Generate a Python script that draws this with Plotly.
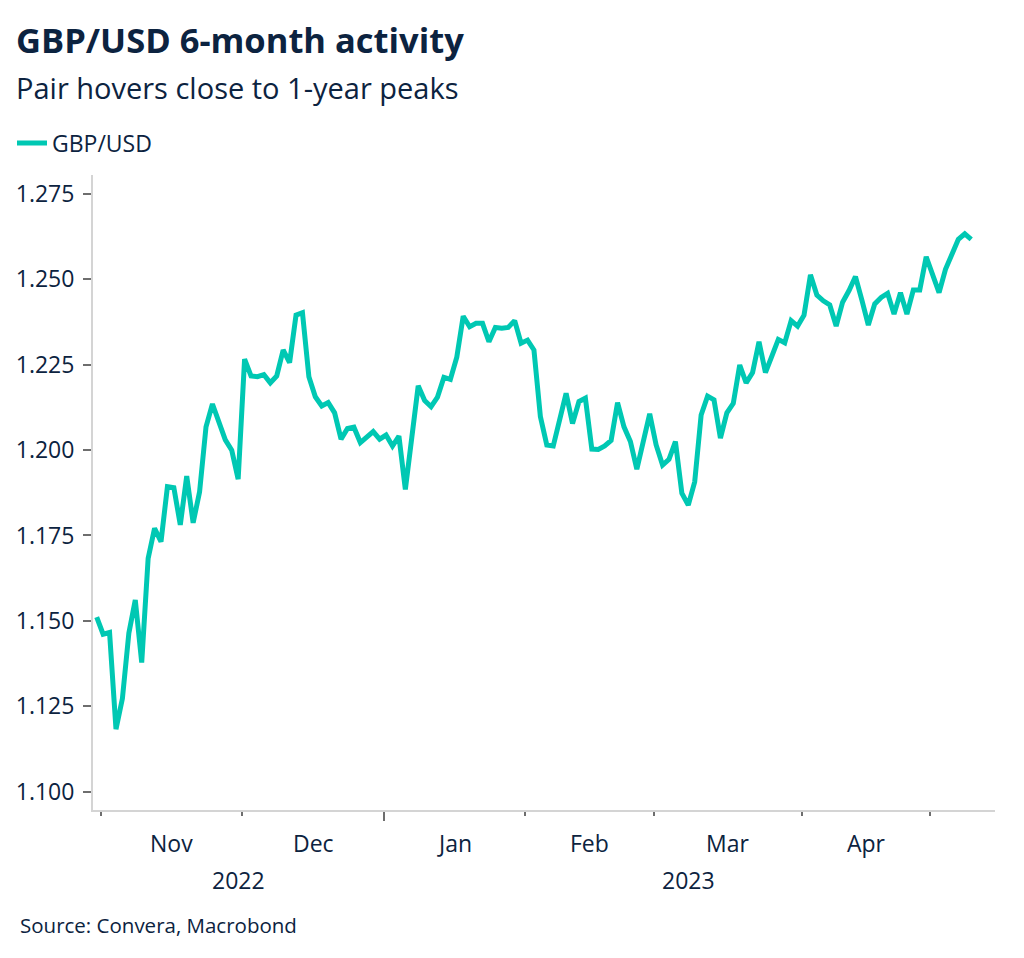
import pandas as pd
import plotly.graph_objects as go

# ---- data ----
start_date = "2022-10-31"
gbpusd = [
    1.1511, 1.1461, 1.1466, 1.1183, 1.1273, 1.1464, 1.1561, 1.1378, 1.1683, 1.1771,
    1.1732, 1.1893, 1.1890, 1.1781, 1.1924, 1.1787, 1.1878, 1.2068, 1.2135, 1.2078,
    1.2030, 1.2000, 1.1915, 1.2266, 1.2217, 1.2215, 1.2221, 1.2197, 1.2217, 1.2293,
    1.2256, 1.2395, 1.2402, 1.2215, 1.2156, 1.2129, 1.2139, 1.2109, 1.2032, 1.2063,
    1.2067, 1.2022, 1.2039, 1.2054, 1.2032, 1.2044, 1.2012, 1.2041, 1.1885, 1.2035,
    1.2188, 1.2145, 1.2127, 1.2155, 1.2213, 1.2207, 1.2272, 1.2392, 1.2361, 1.2371,
    1.2371, 1.2317, 1.2359, 1.2357, 1.2359, 1.2379, 1.2313, 1.2322, 1.2293, 1.2098,
    1.2015, 1.2012, 1.2083, 1.2166, 1.2078, 1.2142, 1.2152, 1.2003, 1.2002, 1.2012,
    1.2028, 1.2139, 1.2068, 1.2025, 1.1944, 1.2025, 1.2106, 1.2015, 1.1956, 1.1973,
    1.2025, 1.1874, 1.1839, 1.1907, 1.2103, 1.2158, 1.2147, 1.2035, 1.2109, 1.2137,
    1.2249, 1.2197, 1.2227, 1.2317, 1.2227, 1.2275, 1.2324, 1.2314, 1.2379, 1.2363,
    1.2395, 1.2513, 1.2454, 1.2437, 1.2425, 1.2363, 1.2433, 1.2467, 1.2508, 1.2439,
    1.2366, 1.2428, 1.2447, 1.2459, 1.2398, 1.2461, 1.2398, 1.2469, 1.2469, 1.2566,
    1.2518, 1.2461, 1.2529, 1.2576, 1.2617, 1.2633, 1.2617,
]
dates = pd.bdate_range(start_date, periods=len(gbpusd))

y_ticks = [1.100, 1.125, 1.150, 1.175, 1.200, 1.225, 1.250, 1.275]
month_labels = ["Nov", "Dec", "Jan", "Feb", "Mar", "Apr"]
year_labels = ["2022", "2023"]

# ---- styling ----
NAVY = "#0C2340"
TEAL = "#00C8B3"
AXIS = "#D4D4D4"
TICK = "#6E6E6E"
FONT = "Open Sans"

# month boundaries (plotted at end of last business day of each month)
year_tick = ["2022-12-30 16:00"]
month_ticks = ["2022-10-31 16:00", "2022-11-30 16:00", "2023-01-31 16:00",
               "2023-02-28 16:00", "2023-03-31 16:00", "2023-04-28 16:00"]
month_label_pos = ["2022-11-15 16:00", "2022-12-15 16:00", "2023-01-16 16:00",
                   "2023-02-14 16:00", "2023-03-16 04:00", "2023-04-14 16:00"]
year_label_pos = ["2022-11-30 00:00", "2023-03-08 02:00"]

fig = go.Figure()
fig.add_trace(go.Scatter(
    x=dates, y=gbpusd, mode="lines", name="GBP/USD",
    line=dict(color=TEAL, width=5),
))

fig.update_layout(
    width=1024, height=958,
    margin=dict(l=85, r=37, t=167, b=156, autoexpand=False),
    paper_bgcolor="white", plot_bgcolor="white",
    font=dict(family=FONT, color=NAVY, size=22),
    showlegend=True,
    legend=dict(
        orientation="h", x=-0.0898, xanchor="left", y=1.0504, yanchor="middle",
        font=dict(size=23, color=NAVY), itemwidth=30, bgcolor="rgba(0,0,0,0)",
    ),
)

fig.update_xaxes(
    type="date", automargin=False,
    rangebreaks=[dict(bounds=["sat", "mon"])],
    range=["2022-10-28 10:12", "2023-05-12 16:48"],
    showline=True, linecolor=AXIS, linewidth=2,
    showgrid=False, zeroline=False,
    tickmode="array", tickvals=year_tick, ticktext=[""],
    ticks="outside", ticklen=9, tickwidth=2, tickcolor=TICK,
    showticklabels=False,
    minor=dict(tickmode="array", tickvals=month_ticks, ticks="outside",
               ticklen=4, tickwidth=2, tickcolor=TICK, showgrid=False),
)

fig.update_yaxes(
    automargin=False,
    range=[1.09464, 1.28053],
    tickmode="array", tickvals=y_ticks,
    ticktext=[f"{v:.3f}" for v in y_ticks],
    showline=True, linecolor=AXIS, linewidth=2,
    showgrid=False, zeroline=False,
    ticks="outside", ticklen=8, tickwidth=1.5, tickcolor=TICK,
    tickfont=dict(size=23, color=NAVY),
    ticklabelstandoff=4,
)

annotations = []
for lab, pos in zip(month_labels, month_label_pos):
    annotations.append(dict(x=pos, y=-0.052, xref="x", yref="paper", text=lab,
                            showarrow=False, xanchor="center", yanchor="middle",
                            font=dict(size=23, color=NAVY)))
for lab, pos in zip(year_labels, year_label_pos):
    annotations.append(dict(x=pos, y=-0.110, xref="x", yref="paper", text=lab,
                            showarrow=False, xanchor="center", yanchor="middle",
                            font=dict(size=23, color=NAVY)))

annotations.append(dict(x=-0.088, y=1.213, xref="paper", yref="paper",
                        text="<b>GBP/USD 6-month activity</b>", showarrow=False,
                        xanchor="left", yanchor="middle",
                        font=dict(size=34.5, color=NAVY)))
annotations.append(dict(x=-0.088, y=1.138, xref="paper", yref="paper",
                        text="Pair hovers close to 1-year peaks", showarrow=False,
                        xanchor="left", yanchor="middle",
                        font=dict(size=29, color=NAVY)))
annotations.append(dict(x=-0.083, y=-0.181, xref="paper", yref="paper",
                        text="Source: Convera, Macrobond", showarrow=False,
                        xanchor="left", yanchor="middle",
                        font=dict(size=20.5, color=NAVY)))
fig.update_layout(annotations=annotations)

fig.write_html("out.html")
